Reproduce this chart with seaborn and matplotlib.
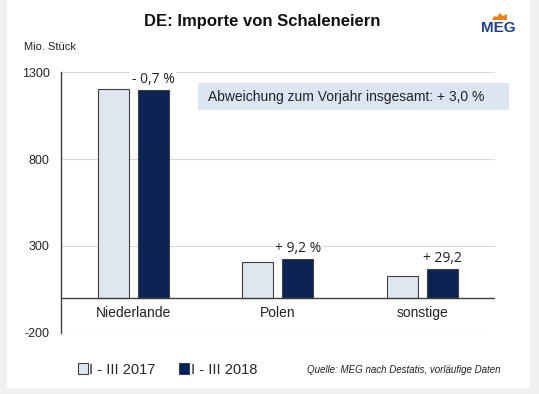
import matplotlib
matplotlib.use("Agg")
import matplotlib.pyplot as plt
import matplotlib.patches as mpatches
import pandas as pd
import seaborn as sns

# Daten (Mio. Stück)
laender = ["Niederlande", "Polen", "sonstige"]
perioden = ["I - III 2017", "I - III 2018"]
werte_2017 = [1203, 208, 129]
werte_2018 = [1195, 227, 167]
veraenderung = ["- 0,7 %", "+ 9,2 %", "+ 29,2"]
y_ticks = [-200, 300, 800, 1300]

df = pd.DataFrame({
    "land": laender * 2,
    "periode": [perioden[0]] * 3 + [perioden[1]] * 3,
    "wert": werte_2017 + werte_2018,
})

sns.set_theme(style="white")
plt.rcParams["font.family"] = ["Liberation Sans", "DejaVu Sans"]

farben = {perioden[0]: "#dce6f2", perioden[1]: "#002060"}

fig = plt.figure(figsize=(5.39, 3.94), dpi=100, facecolor="#f0f0f0")
fig.patches.append(mpatches.Rectangle((0.013, 0.015), 0.97, 0.985, transform=fig.transFigure,
                                      facecolor="white", edgecolor="none", zorder=-10))
ax = fig.add_axes([0.113, 0.155, 0.805, 0.662])
ax.set_facecolor("none")

bar_w = 0.552
sns.barplot(data=df, x="land", y="wert", hue="periode", palette=farben, width=bar_w, gap=0.225,
            edgecolor="#404040", linewidth=0.8, legend=False, ax=ax, zorder=3)

ax.set_ylim(-200, 1300)
ax.set_xlim(-0.5, 2.5)
ax.set_yticks(y_ticks)
ax.set_yticklabels([str(t) for t in y_ticks], fontsize=9)
ax.tick_params(axis="y", length=0, pad=8)
ax.set_xticks([])
ax.set_xlabel("")
ax.set_ylabel("")
for t in y_ticks:
    ax.axhline(t, color="#d9d9d9", lw=0.8, zorder=0)
ax.axhline(0, color="#404040", lw=1, zorder=4)
for s in ["top", "right", "bottom"]:
    ax.spines[s].set_visible(False)
ax.spines["left"].set_color("#404040")
ax.spines["left"].set_linewidth(1)

# Kategorien unter der Nulllinie
for i, name in enumerate(laender):
    ax.text(i, -85, name, ha="center", va="center", fontsize=10, color="#222222")

# Veränderung über den 2018er Balken
offset = bar_w / 4
for i, txt in enumerate(veraenderung):
    ax.text(i + offset, werte_2018[i] + 18, txt, ha="center", va="bottom", fontsize=10,
            family=["Open Sans", "DejaVu Sans"], color="#222222",
            bbox=dict(facecolor="white", edgecolor="none", pad=1), zorder=5)

# Hinweisbox
fig.patches.append(mpatches.Rectangle((198 / 539, 1 - 110 / 394), 311 / 539, 27 / 394,
                                      transform=fig.transFigure, facecolor="#dce6f2",
                                      edgecolor="none", zorder=5))
fig.text(208 / 539, 1 - 96.5 / 394, "Abweichung zum Vorjahr insgesamt: + 3,0 %", ha="left",
         va="center", fontsize=10, color="#222222", zorder=6)

fig.text(0.487, 0.945, "DE: Importe von Schaleneiern", ha="center", va="center",
         fontsize=12, fontweight="bold", color="#111111")
fig.text(0.045, 0.88, "Mio. Stück", ha="left", va="center", fontsize=8, color="#222222")

# Logo
fig.text(0.924, 0.928, "MEG", ha="center", va="center", fontsize=11, fontweight="bold",
         color="#1f3f8a")
flamme = [(492, 20), (494, 16), (497, 17), (500, 13), (503, 16), (507, 14), (507, 20)]
fig.patches.append(mpatches.Polygon([(x / 539, 1 - y / 394) for x, y in flamme], closed=True,
                                    transform=fig.transFigure, facecolor="#f07f1d",
                                    edgecolor="none"))

# Legende
handles = [mpatches.Patch(facecolor=farben[p], edgecolor="#404040", lw=0.8, label=p) for p in perioden]
fig.legend(handles=handles, loc="center left", bbox_to_anchor=(0.12, 0.062), ncol=2, frameon=False,
           fontsize=10.5, handlelength=0.7, handleheight=0.7, handletextpad=0.1, columnspacing=1.6)
fig.text(0.928, 0.062, "Quelle: MEG nach Destatis, vorläufige Daten", ha="right", va="center",
         fontsize=7, style="italic", color="#222222")

fig.savefig("out.png", dpi=100, facecolor=fig.get_facecolor())
